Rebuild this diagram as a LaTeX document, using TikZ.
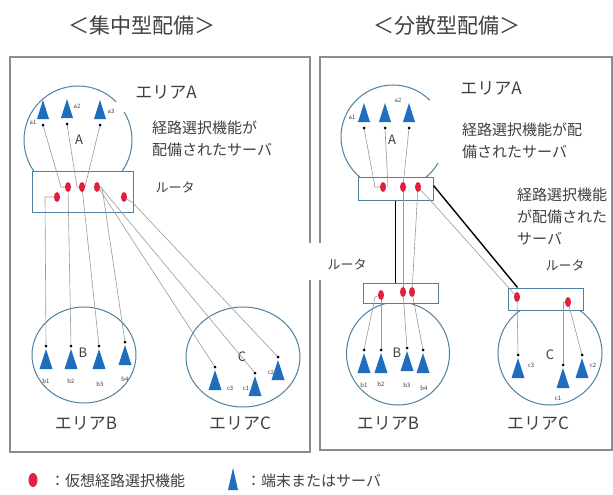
\documentclass[tikz,border=0pt]{standalone}
\usepackage{fontspec}
\setmainfont{Noto Sans CJK JP}
\usetikzlibrary{shapes.geometric,calc}
\definecolor{termblue}{HTML}{1F6EBE}
\definecolor{vred}{HTML}{E0203C}
\definecolor{circblue}{HTML}{4E7F9E}
\definecolor{panelgray}{HTML}{8C8C8C}
\definecolor{linegray}{HTML}{9A9A9A}
\definecolor{txtgray}{HTML}{404040}
\newcommand\termtri[1]{\fill[termblue] (#1) ++(0,3) -- ++(-6.5,20) -- ++(13,0) -- cycle; \fill[black] (#1) circle (1.5);}
\newcommand\termtriup[1]{\fill[termblue] (#1) ++(0,-25) -- ++(-6,19) -- ++(12,0) -- cycle; \fill[black] (#1) circle (1.5);}
\begin{document}
\begin{tikzpicture}[x=1pt,y=-1pt,
  conn/.style={draw=linegray,line width=0.6pt},
  heavyline/.style={draw=black,line width=1.4pt},
  vdot/.style={ellipse,fill=vred,inner sep=0,minimum width=6pt,minimum height=10pt},
  areacirc/.style={draw=circblue,line width=1pt},
  routerbox/.style={draw=circblue,line width=1pt,fill=white,rectangle,inner sep=0},
  panel/.style={draw=panelgray,line width=1.5pt},
  lbl/.style={inner sep=0,text=txtgray,font=\fontsize{6}{6}\selectfont},
  titletxt/.style={inner sep=0,text=txtgray,font=\fontsize{21}{24}\selectfont},
  areatxt/.style={inner sep=0,text=txtgray,font=\fontsize{17}{20}\selectfont},
  bodytxt/.style={inner sep=0,text=txtgray,font=\fontsize{15}{22}\selectfont,align=left,anchor=west},
  ltrtxt/.style={inner sep=0,text=txtgray,font=\fontsize{13}{15}\selectfont},
]
\useasboundingbox (0,0) rectangle (613,495);
\fill[white] (0,0) rectangle (613,495);

% panels
\draw[panel] (10,57) rectangle (310,452);
\draw[panel] (320,57) rectangle (612,450);
\node[titletxt] (t1) at (142,26) {＜集中型配備＞};
\node[titletxt] (t2) at (447,26) {＜分散型配備＞};

% ===== left panel =====
\draw[areacirc] (78,140) ++(-45:54) arc[start angle=-45,end angle=-391,radius=54];
\draw[areacirc] (84,355) ellipse[x radius=52,y radius=48];
\draw[areacirc] (243,357) ellipse[x radius=57,y radius=50];
\node[routerbox,minimum width=101pt,minimum height=41pt] (LR) at (82.5,191.5) {};

\node[areatxt] (LAt) at (166,92) {エリアA};
\node[bodytxt] (LAs) at (152,139) {経路選択機能が\\配備されたサーバ};
\node[ltrtxt] (LRt) at (175,187) {ルータ};
\node[areatxt] at (79,140) {\fontsize{13}{13}\selectfont A};
\node[areatxt] at (83,353) {\fontsize{13}{13}\selectfont B};
\node[areatxt] at (242,357) {\fontsize{13}{13}\selectfont C};
\node[areatxt] (LBt) at (86,423) {エリアB};
\node[areatxt] (LCt) at (240,423) {エリアC};

\coordinate (L1) at (57,197);
\coordinate (L2) at (68,187);
\coordinate (L3) at (82,187);
\coordinate (L4) at (97,187);
\coordinate (L5) at (124,197);
\coordinate (La1) at (43,125);
\coordinate (La2) at (67,124);
\coordinate (La3) at (100,125);
\coordinate (Lb1) at (46,346);
\coordinate (Lb2) at (71,346);
\coordinate (Lb3) at (99,346);
\coordinate (Lb4) at (125,342);
\coordinate (Lc3) at (215,367);
\coordinate (Lc1) at (255,373);
\coordinate (Lc2) at (278,357);

\draw[conn] (La1) -- (61,187) -- (L2);
\draw[conn] (La2) -- (77,187) -- (L3);
\draw[conn] (La3) -- (85,187);
\draw[conn] (L1) -- (45,197) -- (Lb1);
\draw[conn] (L2) -- (Lb2);
\draw[conn] (L3) -- (Lb3);
\draw[conn] (L4) -- (102,187) -- (Lb4);
\draw[conn] (L4) -- (100,190) -- (Lc3);
\draw[conn] (L4) -- (103,190) -- (Lc1);
\draw[conn] (L5) -- (133,203) -- (Lc2);

\foreach \p in {L1,L2,L3,L4,L5} \node[vdot] at (\p) {};
\foreach \p in {La1,La2,La3} \termtriup{\p};
\foreach \p in {Lb1,Lb2,Lb3,Lb4,Lc1,Lc2,Lc3} \termtri{\p};

\node[lbl] at (33,122) {a1};
\node[lbl] at (77,106) {a2};
\node[lbl] at (111,111) {a3};
\node[lbl] at (46,381) {b1};
\node[lbl] at (71,381) {b2};
\node[lbl] at (100,384) {b3};
\node[lbl] at (125,379) {b4};
\node[lbl] at (230,388) {c3};
\node[lbl] at (246,388) {c1};
\node[lbl] at (271,372) {c2};

% ===== right panel =====
\draw[areacirc] (393,137) ++(-45:52) arc[start angle=-45,end angle=-330,radius=52];
\draw[areacirc] (398,353.5) circle[radius=51.5];
\draw[areacirc] (550,353) circle[radius=52];
\node[routerbox,minimum width=75pt,minimum height=23pt] (RA) at (395.5,188.5) {};
\node[routerbox,minimum width=75pt,minimum height=20pt] (RB) at (400.5,293) {};
\node[routerbox,minimum width=75pt,minimum height=22pt] (RC) at (545.5,299) {};

\node[areatxt] (RAt) at (491,88) {エリアA};
\node[bodytxt] (RAs) at (462,141) {経路選択機能が配\\備されたサーバ};
\node[bodytxt] (RCs) at (517,217) {経路選択機能\\が配備された\\サーバ};
\fill[white] (302,243) rectangle (373,280);
\node[ltrtxt] (RLt1) at (347,264) {ルータ};
\node[ltrtxt] (RLt2) at (565,265) {ルータ};
\node[areatxt] at (392,140) {\fontsize{13}{13}\selectfont A};
\node[areatxt] at (397,353) {\fontsize{13}{13}\selectfont B};
\node[areatxt] at (550,355) {\fontsize{13}{13}\selectfont C};
\node[areatxt] (RBt) at (388,423) {エリアB};
\node[areatxt] (RCt) at (538,423) {エリアC};

\coordinate (R1) at (383,187);
\coordinate (R2) at (403,187);
\coordinate (R3) at (418,187);
\coordinate (RB1) at (381,295);
\coordinate (RB2) at (403,292);
\coordinate (RB3) at (412,292);
\coordinate (RC1) at (517,297);
\coordinate (RC2) at (568,302);
\coordinate (Ra1) at (364,128);
\coordinate (Ra2) at (385,128);
\coordinate (Ra3) at (409,128);
\coordinate (Rb1) at (364,350);
\coordinate (Rb2) at (381,350);
\coordinate (Rb3) at (407,348);
\coordinate (Rb4) at (423,350);
\coordinate (Rc3) at (518,355);
\coordinate (Rc1) at (563,365);
\coordinate (Rc2) at (582,355);

\draw[heavyline] (RA.south) -- (RA.south |- RB.north);
\draw[heavyline] ([yshift=3pt]RA.east) -- ([xshift=10pt]RC.north west);

\draw[conn] (Ra1) -- (375,187) -- (R1);
\draw[conn] (Ra2) -- (388,187);
\draw[conn] (Ra3) -- (R2);
\draw[conn] (R2) -- (RB2);
\draw[conn] (R3) -- (RB3);
\draw[conn] (R3) -- (430,200) -- (RC1);
\draw[conn] (RB1) -- (375,297) -- (Rb1);
\draw[conn] (RB1) -- (Rb2);
\draw[conn] (RB2) -- (Rb3);
\draw[conn] (RB3) -- (Rb4);
\draw[conn] (RC1) -- (Rc3);
\draw[conn] (RC2) -- (563,302) -- (Rc1);
\draw[conn] (RC2) -- (Rc2);

\foreach \p in {R1,R2,R3,RB1,RB2,RB3,RC1,RC2} \node[vdot] at (\p) {};
\foreach \p in {Ra1,Ra2,Ra3} \termtriup{\p};
\foreach \p in {Rb1,Rb2,Rb3,Rb4,Rc1,Rc2,Rc3} \termtri{\p};

\node[lbl] at (352,117) {a1};
\node[lbl] at (398,100) {a2};
\node[lbl] at (364,385) {b1};
\node[lbl] at (381,384) {b2};
\node[lbl] at (407,385) {b3};
\node[lbl] at (424,388) {b4};
\node[lbl] at (531,365) {c3};
\node[lbl] at (558,398) {c1};
\node[lbl] at (593,365) {c2};

% ===== legend =====
\node[vdot,minimum width=9pt,minimum height=14pt] (lgdot) at (33,480) {};
\node[bodytxt] (lg1) at (50,481) {：仮想経路選択機能};
\coordinate (lgtri) at (233,468);
\fill[termblue] (lgtri) -- ++(-5,22) -- ++(10,0) -- cycle;
\node[bodytxt] (lg2) at (246,481) {：端末またはサーバ};
\end{tikzpicture}
\end{document}
